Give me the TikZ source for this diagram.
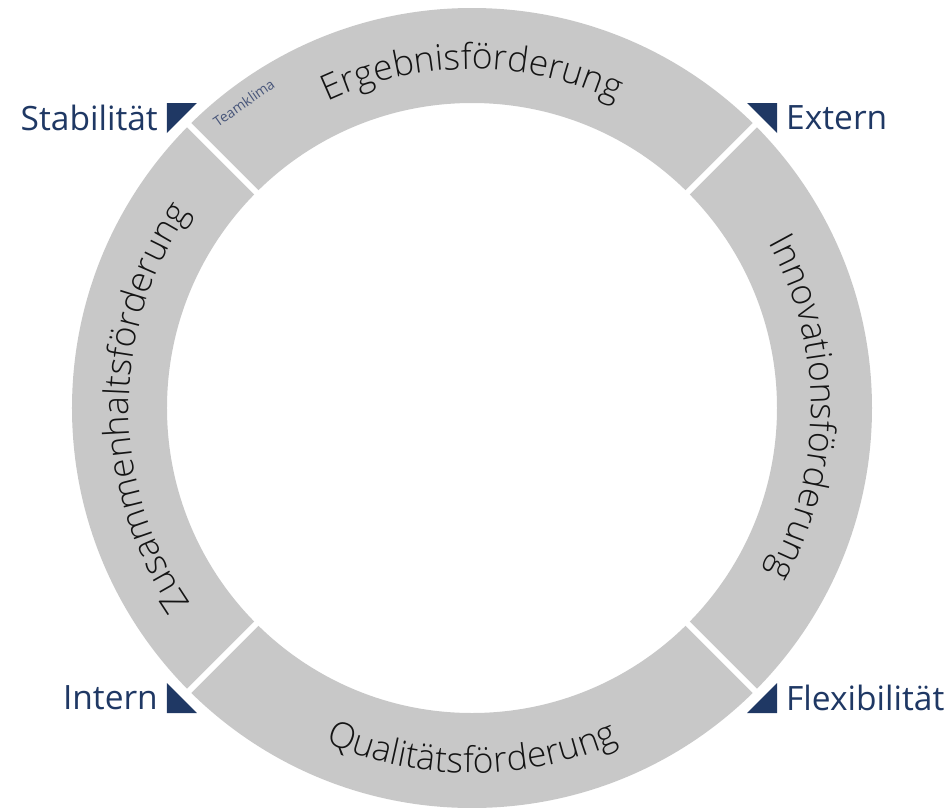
\documentclass[tikz,border=0pt]{standalone}
\usepackage{fontspec}
\setmainfont{Open Sans}
\newfontfamily\ringface{Open Sans Light}
\usetikzlibrary{positioning, decorations.text}
\definecolor{ringgray}{RGB}{200,200,200}
\definecolor{navy}{RGB}{31,56,100}
\definecolor{klimablue}{RGB}{72,86,122}
\definecolor{ringink}{RGB}{20,20,20}
\newcommand{\ringfont}{\ringface\fontsize{35.5}{40}\selectfont\color{ringink}}
\tikzset{ring/.style={
        fill=ringgray,
        even odd rule
}}
\tikzset{gap/.style={draw=white, line width=6pt}}
\tikzset{marker/.style={fill=navy}}
\tikzset{sidelabel/.style={
        inner sep=0pt,
        text=navy,
        font=\fontsize{33.5}{38}\selectfont
}}
\tikzset{ringtext/.style={decorate, decoration={text along path, text align=center}}}
\tikzset{klima/.style={inner sep=0pt, text=klimablue, font=\fontsize{14}{16}\selectfont}}

\begin{document}
\begin{tikzpicture}[x=1pt, y=1pt, node distance=9pt]
\useasboundingbox (-472,-399) rectangle (473,408);
\fill[ring] (0,0) circle (400) (0,0) circle (305);
\foreach \a in {45,135,225,315}
  \draw[gap] (\a:290) -- (\a:415);
\foreach \sx/\sy in {-1/1, 1/1, -1/-1, 1/-1}
  \fill[marker] (\sx*305,\sy*305) -- (\sx*275,\sy*305) -- (\sx*305,\sy*275) -- cycle;

\coordinate (stabmark) at (-305,290);
\coordinate (extmark) at (305,290);
\coordinate (intmark) at (-305,-290);
\coordinate (flexmark) at (305,-290);
\node[sidelabel, left=of stabmark] (stab) {Stabilität};
\node[sidelabel, right=of extmark] (ext) {Extern};
\node[sidelabel, left=of intmark] (int) {Intern};
\node[sidelabel, right=of flexmark] (flex) {Flexibilität};

\path[ringtext, decoration={text={|\ringfont|Ergebnisförderung}}] (135:339) arc[start angle=135, end angle=45, radius=339];
\path[ringtext, decoration={text={|\ringfont|Innovationsförderung}}] (45:339) arc[start angle=45, end angle=-45, radius=339];
\path[ringtext, decoration={text={|\ringfont|Qualitätsförderung}}] (225:365) arc[start angle=225, end angle=315, radius=365];
\path[ringtext, decoration={text={|\ringfont|Zusammenhaltsförderung}}] (225:343) arc[start angle=225, end angle=135, radius=343];
\node[klima, rotate=35] (team) at (126.8:381) {Teamklima};
\end{tikzpicture}
\end{document}
